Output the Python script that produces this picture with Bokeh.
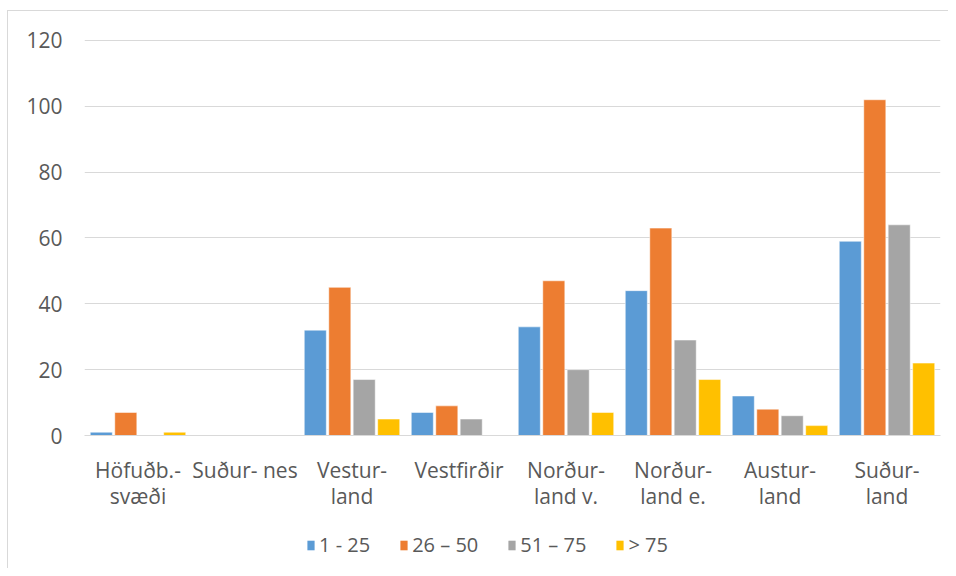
from bokeh.plotting import figure
from bokeh.layouts import column
from bokeh.models import FactorRange, Range1d, ColumnDataSource, Legend, LegendItem, FixedTicker
from bokeh.transform import dodge
from bokeh.embed import file_html
from bokeh.resources import INLINE

categories = ["Höfuðb.-\nsvæði", "Suður- nes", "Vestur-\nland", "Vestfirðir",
              "Norður-\nland v.", "Norður-\nland e.", "Austur-\nland", "Suður-\nland"]
series_names = ["1 - 25", "26 – 50", "51 – 75", "> 75"]
s_1_25 = [1, 0, 32, 7, 33, 44, 12, 59]
s_26_50 = [7, 0, 45, 9, 47, 63, 8, 102]
s_51_75 = [0, 0, 17, 5, 20, 29, 6, 64]
s_75 = [1, 0, 5, 0, 7, 17, 3, 22]
y_ticks = [0, 20, 40, 60, 80, 100, 120]

colors = ["#5B9BD5", "#ED7D31", "#A5A5A5", "#FFC000"]
FONT = "Open Sans"
TXT = "#595959"
BORDER = "1px solid #D9D9D9"

src = ColumnDataSource(dict(cat=categories, a=s_1_25, b=s_26_50, c=s_51_75, d=s_75))

p = figure(x_range=FactorRange(factors=categories), y_range=Range1d(0, 120.3),
           width=941, height=510, output_backend="svg", toolbar_location=None,
           min_border_left=76, min_border_right=9, min_border_top=28, min_border_bottom=86)
p.margin = (10, 0, 0, 7)
p.styles = {"border-left": BORDER, "border-top": BORDER}

offsets = [-0.343, -0.114, 0.114, 0.343]
for key, off, col in zip(["a", "b", "c", "d"], offsets, colors):
    p.vbar(x=dodge("cat", off, range=p.x_range), top=key, width=0.206, source=src,
           fill_color=col, line_color="white", line_alpha=0.5, line_width=1)

p.outline_line_color = None
p.xgrid.grid_line_color = None
p.ygrid.grid_line_color = "#D9D9D9"
p.ygrid.grid_line_width = 1

p.yaxis.ticker = FixedTicker(ticks=y_ticks)
p.yaxis.axis_line_color = None
p.yaxis.major_tick_line_color = None
p.yaxis.minor_tick_line_color = None
p.yaxis.major_label_standoff = 16
p.yaxis.major_label_text_font = FONT
p.yaxis.major_label_text_font_size = "21px"
p.yaxis.major_label_text_color = TXT

p.xaxis.axis_line_color = "#D9D9D9"
p.xaxis.axis_line_width = 1
p.xaxis.major_tick_line_color = None
p.xaxis.minor_tick_line_color = None
p.xaxis.major_label_standoff = 14
p.xaxis.major_label_text_font = FONT
p.xaxis.major_label_text_font_size = "21px"
p.xaxis.major_label_text_color = TXT
p.xaxis.major_label_orientation = "horizontal"
p.xaxis.major_label_text_line_height = 0.95

# legend strip below the chart (zero-size swatch renderers for the legend only)
lg = figure(width=941, height=48, output_backend="svg", toolbar_location=None,
            x_range=Range1d(0, 1), y_range=Range1d(0, 1),
            x_axis_type=None, y_axis_type=None, min_border=0)
lg.margin = (0, 0, 0, 7)
lg.styles = {"border-left": BORDER}
lg.outline_line_color = None
lg.grid.visible = False
swatches = []
for col in colors:
    swatches.append(lg.vbar(x=[0], top=[0], bottom=[0], width=0, fill_color=col, line_color=None))

legend = Legend(items=[LegendItem(label=n, renderers=[r]) for n, r in zip(series_names, swatches)],
                orientation="horizontal", location=(222, 10),
                glyph_width=9, glyph_height=12, label_standoff=4, spacing=29,
                padding=0, margin=0, border_line_color=None, background_fill_alpha=0,
                label_text_font=FONT, label_text_font_size="20px", label_text_color=TXT,
                label_height=20)
lg.add_layout(legend)

layout = column(p, lg, spacing=0)
open("out.html", "w").write(file_html(layout, INLINE))
